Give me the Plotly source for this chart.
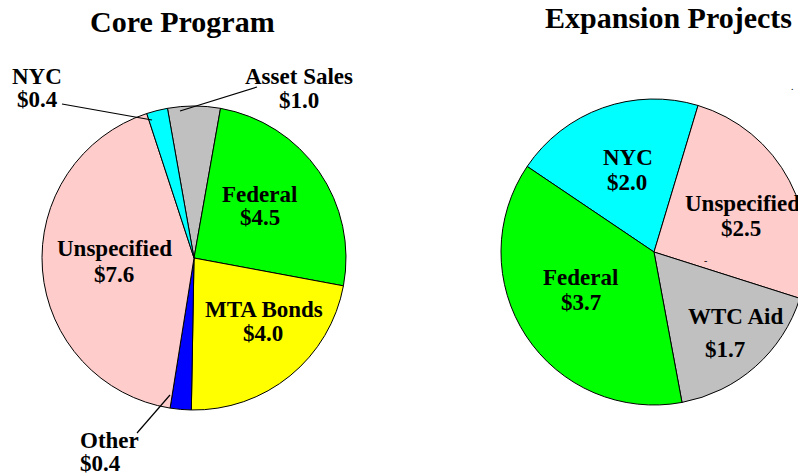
import plotly.graph_objects as go

# Core Program funding (billions)
core_labels = ["Asset Sales", "Federal", "MTA Bonds", "Other", "Unspecified", "NYC"]
core_values = [1.0, 4.5, 4.0, 0.4, 7.6, 0.4]

# Expansion Projects funding (billions)
exp_labels = ["NYC", "Unspecified", "WTC Aid", "Federal"]
exp_values = [2.0, 2.5, 1.7, 3.7]

COLORS = {
    'Asset Sales': '#C0C0C0',
    'Federal': '#00FF00',
    'MTA Bonds': '#FFFF00',
    'Other': '#0000FF',
    'Unspecified': '#FFCCCC',
    'NYC': '#00FFFF',
    'WTC Aid': '#C0C0C0',
}

W, H = 812, 474
FONT = 'Liberation Serif, Times New Roman, serif'


def fx(x):
    return x / W


def fy(y):
    return 1 - y / H


# label placement in pixels: (name x, name y, value x, value y, align)
core_pos = {
    'Asset Sales': (299, 76, 299, 101, 'center'),
    'Federal': (259, 194, 260, 218, 'center'),
    'MTA Bonds': (264, 309, 263, 333, 'center'),
    'Other': (78, 440, 78, 463, 'left'),
    'Unspecified': (114, 248, 114, 274, 'center'),
    'NYC': (37, 76, 37, 100, 'center'),
}
exp_pos = {
    'NYC': (628, 157, 627, 182, 'center'),
    'Unspecified': (742, 203, 741, 228, 'center'),
    'WTC Aid': (735, 316, 725, 349, 'center'),
    'Federal': (580, 277, 581, 302, 'center'),
}
leaders = [((62, 104), (152, 120)), ((257, 87), (180, 111)), ((137, 433), (170, 395))]

fig = go.Figure()

fig.add_trace(go.Pie(
    labels=core_labels, values=core_values, sort=False, direction='clockwise',
    rotation=-core_values[0] / sum(core_values) * 180,
    marker=dict(colors=[COLORS[l] for l in core_labels], line=dict(color='black', width=1)),
    textinfo='none', hoverinfo='label+value', showlegend=False,
    domain=dict(x=[fx(194 - 152), fx(194 + 152)], y=[fy(258 + 152), fy(258 - 152)]),
))

fig.add_trace(go.Pie(
    labels=exp_labels, values=exp_values, sort=False, direction='clockwise',
    rotation=-56,
    marker=dict(colors=[COLORS[l] for l in exp_labels], line=dict(color='black', width=1)),
    textinfo='none', hoverinfo='label+value', showlegend=False,
    domain=dict(x=[fx(654 - 153), fx(654 + 153)], y=[fy(252 + 153), fy(252 - 153)]),
))

annotations = []


def add_labels(labels, values, pos):
    for lab, val in zip(labels, values):
        x1, y1, x2, y2, align = pos[lab]
        anchor = 'left' if align == 'left' else 'center'
        for txt, x, y in ((f'<b>{lab}</b>', x1, y1), (f'<b>${val:.1f}</b>', x2, y2)):
            annotations.append(dict(
                text=txt, x=fx(x), y=fy(y), xref='paper', yref='paper',
                xanchor=anchor, yanchor='middle', showarrow=False,
                font=dict(family=FONT, size=23, color='black'),
            ))


add_labels(core_labels, core_values, core_pos)
add_labels(exp_labels, exp_values, exp_pos)

for title, x, y in (('Core Program', 182, 21), ('Expansion Projects', 668, 17)):
    annotations.append(dict(
        text=f'<b>{title}</b>', x=fx(x), y=fy(y), xref='paper', yref='paper',
        xanchor='center', yanchor='middle', showarrow=False,
        font=dict(family=FONT, size=30, color='black'),
    ))

# stray marks visible in the original
for txt, x, y in (('-', 705, 260), ('.', 792, 86)):
    annotations.append(dict(
        text=txt, x=fx(x), y=fy(y), xref='paper', yref='paper',
        xanchor='center', yanchor='middle', showarrow=False,
        font=dict(family=FONT, size=10, color='black'),
    ))

shapes = [dict(type='line', xref='paper', yref='paper',
               x0=fx(a[0]), y0=fy(a[1]), x1=fx(b[0]), y1=fy(b[1]),
               line=dict(color='black', width=1.2)) for a, b in leaders]

fig.update_layout(
    width=W, height=H,
    margin=dict(l=0, r=0, t=0, b=0),
    paper_bgcolor='white', plot_bgcolor='white',
    annotations=annotations, shapes=shapes,
)

fig.write_html(
    "out.html",
    config={'displayModeBar': False},
    post_script="document.documentElement.style.overflow='hidden';"
                "document.body.style.overflow='hidden';document.body.style.margin='0';",
)
